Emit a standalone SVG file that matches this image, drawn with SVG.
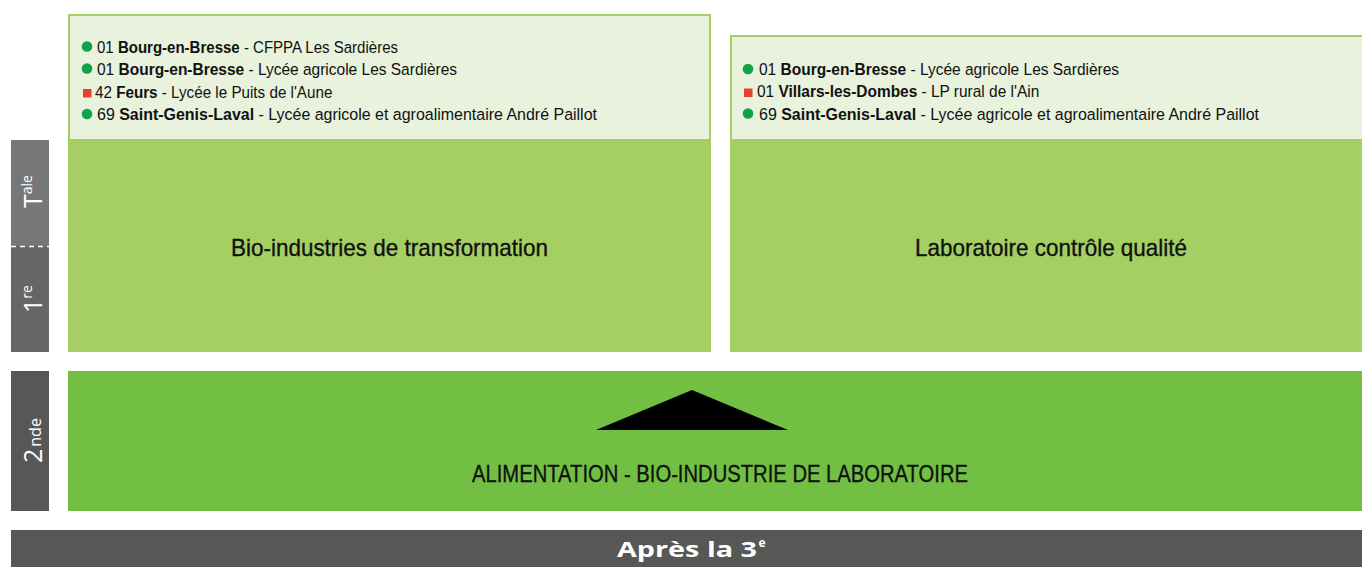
<svg xmlns="http://www.w3.org/2000/svg" width="1362" height="567" viewBox="0 0 1362 567">
<style>
.box{fill:#e8f2dc;stroke:#a5cf63;stroke-width:2}
.g1{fill:#a5cf63}
.g2{fill:#72bf44}
.li{font-family:"Liberation Sans",Arial,sans-serif;font-size:17px;fill:#111}
.b{font-weight:bold}
.dot{fill:#12a14b}
.sq{fill:#e8412e}
.ttl{font-family:"Liberation Sans",Arial,sans-serif;font-size:24px;fill:#111;stroke:#111;stroke-width:0.35}
.side{font-family:"Open Sans","Liberation Sans",Arial,sans-serif;fill:#fff}
</style>
<rect width="1362" height="567" fill="#fff"/>

<g id="side-tale-1re">
  <rect x="11" y="140" width="38" height="106" fill="#777777"/>
  <rect x="11" y="246" width="38" height="106" fill="#666666"/>
  <line x1="11" y1="246.5" x2="49" y2="246.5" stroke="#fff" stroke-width="1.5" stroke-dasharray="5,4"/>
  <text class="side" transform="translate(41.5,208) rotate(-90)" font-size="25">T<tspan font-size="14" dy="-10">ale</tspan></text>
  <text class="side" transform="translate(41.5,313) rotate(-90)" font-size="25">1<tspan font-size="14" dy="-10">re</tspan></text>
</g>

<g id="side-2nde">
  <rect x="11" y="371" width="38" height="140" fill="#575756"/>
  <text class="side" transform="translate(42,463) rotate(-90)" font-size="25">2<tspan font-size="16" dx="2" dy="-1">nde</tspan></text>
</g>

<g id="node-bio">
  <rect class="g1" x="68" y="140" width="643" height="212"/>
  <rect class="box" x="69" y="15" width="641" height="125"/>
  <circle class="dot" cx="87" cy="46.5" r="5.3"/>
  <text class="li" transform="translate(97,52.5) scale(0.884,1)">01 <tspan class="b">Bourg-en-Bresse</tspan> - CFPPA Les Sardières</text>
  <circle class="dot" cx="87" cy="68.5" r="5.3"/>
  <text class="li" transform="translate(97,74.5) scale(0.912,1)">01 <tspan class="b">Bourg-en-Bresse</tspan> - Lycée agricole Les Sardières</text>
  <rect class="sq" x="83" y="89" width="8.5" height="8.5"/>
  <text class="li" transform="translate(95,97.5) scale(0.895,1)">42 <tspan class="b">Feurs</tspan> - Lycée le Puits de l'Aune</text>
  <circle class="dot" cx="87" cy="114" r="5.3"/>
  <text class="li" transform="translate(97,120) scale(0.94,1)">69 <tspan class="b">Saint-Genis-Laval</tspan> - Lycée agricole et agroalimentaire André Paillot</text>
  <text class="ttl" x="231" y="256" textLength="317" lengthAdjust="spacingAndGlyphs">Bio-industries de transformation</text>
</g>

<g id="node-labo">
  <rect class="g1" x="730" y="140" width="632" height="212"/>
  <rect class="box" x="731" y="36" width="632" height="104"/>
  <circle class="dot" cx="748" cy="69" r="5.3"/>
  <text class="li" transform="translate(759,75) scale(0.912,1)">01 <tspan class="b">Bourg-en-Bresse</tspan> - Lycée agricole Les Sardières</text>
  <rect class="sq" x="744" y="88.5" width="8.5" height="8.5"/>
  <text class="li" transform="translate(757,97) scale(0.909,1)">01 <tspan class="b">Villars-les-Dombes</tspan> - LP rural de l'Ain</text>
  <circle class="dot" cx="748" cy="113.5" r="5.3"/>
  <text class="li" transform="translate(759,119.5) scale(0.94,1)">69 <tspan class="b">Saint-Genis-Laval</tspan> - Lycée agricole et agroalimentaire André Paillot</text>
  <text class="ttl" x="915" y="256" textLength="272" lengthAdjust="spacingAndGlyphs">Laboratoire contrôle qualité</text>
</g>

<g id="node-2nde">
  <rect class="g2" x="68" y="371" width="1294" height="140"/>
  <text class="ttl" x="472" y="482" font-size="25" textLength="496" lengthAdjust="spacingAndGlyphs">ALIMENTATION - BIO-INDUSTRIE DE LABORATOIRE</text>
</g>

<g id="connectors">
  <polygon points="596,430 692,390 788,430" fill="#000"/>
</g>

<g id="node-apres3e">
  <rect x="11" y="530" width="1351" height="37" fill="#575756"/>
  <text x="617" y="557" font-family="'Open Sans','DejaVu Sans',sans-serif" font-weight="bold" font-size="22" fill="#fff" textLength="140" lengthAdjust="spacingAndGlyphs">Après la 3</text>
  <text x="758.5" y="547" font-family="'Open Sans','DejaVu Sans',sans-serif" font-weight="bold" font-size="12" fill="#fff">e</text>
</g>
</svg>
